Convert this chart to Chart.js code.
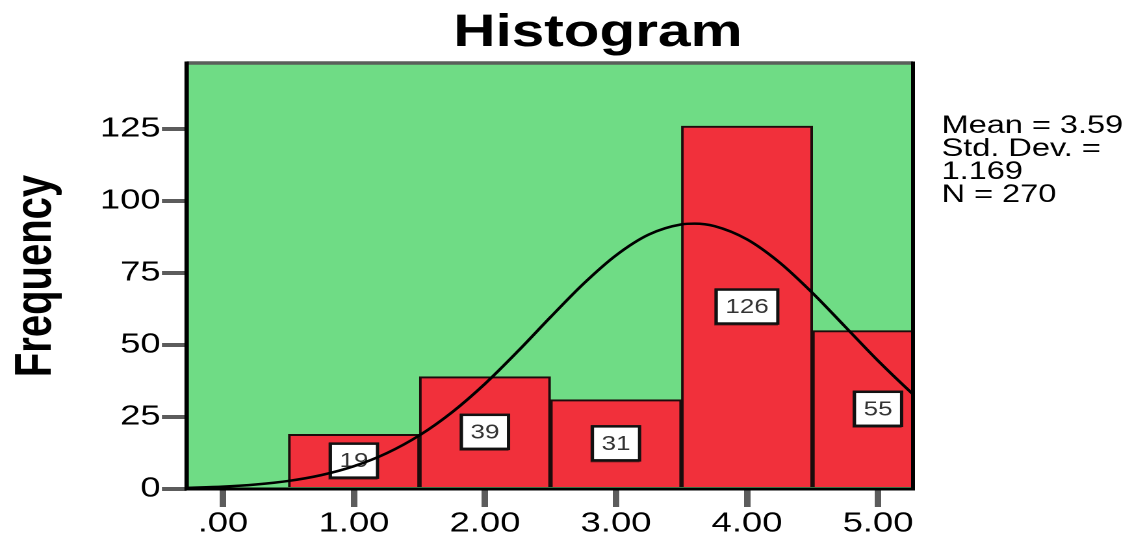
<!DOCTYPE html>
<html>
<head>
<meta charset="utf-8">
<script src="https://cdn.jsdelivr.net/npm/chart.js@4.4.1/dist/chart.umd.min.js"></script>
<style>
html, body { margin: 0; padding: 0; background: #fff; overflow: hidden; }
#wrap { position: absolute; left: 0; top: 0; width: 871px; height: 541px;
        transform: scaleX(1.29966); transform-origin: 0 0; }
</style>
</head>
<body>
<div id="wrap"><canvas id="hist"></canvas></div>
<script>
// histogram bins
const binCenters = [1, 2, 3, 4, 5];
const binCounts = [19, 39, 31, 126, 55];

// normal curve
const curveX = [-0.28, 0, 0.25, 0.5, 0.75, 1, 1.25, 1.5, 1.75, 2, 2.25, 2.5, 2.75, 3, 3.25, 3.5, 3.6, 3.75, 4, 4.25, 4.5, 4.75, 5, 5.25, 5.28];
const curveY = [0.38, 0.82, 1.56, 2.8, 4.82, 7.92, 12.43, 18.64, 26.7, 36.53, 47.77, 59.66, 71.18, 81.12, 88.33, 91.87, 92.13, 91.28, 86.65, 78.57, 68.05, 56.31, 44.52, 33.62, 32.4];

const xTickLabels = ['.00', '1.00', '2.00', '3.00', '4.00', '5.00'];
const statsLines = ['Mean = 3.59', 'Std. Dev. =', '1.169', 'N = 270'];
const chartTitle = 'Histogram';
const yTitle = 'Frequency';

const FONT = "'Liberation Sans', Arial, sans-serif";

// green plot background, borders, title and stats text
const decorPlugin = {
    id: 'decor',
    beforeDatasetsDraw(chart) {
        const { ctx, chartArea: a } = chart;
        ctx.save();
        ctx.fillStyle = '#6fdc85';
        ctx.fillRect(a.left, a.top, a.right - a.left, a.bottom - a.top);
        ctx.restore();
    },
    afterDraw(chart) {
        const { ctx, chartArea: a } = chart;
        ctx.save();
        // top border
        ctx.strokeStyle = '#5a5f5a';
        ctx.lineWidth = 3.5;
        ctx.beginPath();
        ctx.moveTo(a.left, a.top);
        ctx.lineTo(a.right, a.top);
        ctx.stroke();
        // right, left and bottom borders
        ctx.strokeStyle = '#000';
        ctx.lineWidth = 3;
        ctx.beginPath();
        ctx.moveTo(a.right, a.top - 1.5);
        ctx.lineTo(a.right, a.bottom);
        ctx.stroke();
        ctx.lineWidth = 3.4;
        ctx.beginPath();
        ctx.moveTo(a.left, a.top - 1.5);
        ctx.lineTo(a.left, a.bottom + 1.5);
        ctx.stroke();
        ctx.lineWidth = 3;
        ctx.beginPath();
        ctx.moveTo(a.left, a.bottom);
        ctx.lineTo(a.right + 1.5, a.bottom);
        ctx.stroke();

        // title
        ctx.fillStyle = '#000';
        ctx.font = 'bold 45px ' + FONT;
        ctx.textAlign = 'center';
        ctx.textBaseline = 'alphabetic';
        ctx.fillText(chartTitle, 460, 46);

        // stats block
        ctx.font = '25px ' + FONT;
        ctx.textAlign = 'left';
        statsLines.forEach((line, i) => {
            ctx.fillText(line, 724.5, 133 + i * 23);
        });
        ctx.restore();
    },
    // value boxes drawn after the bars, before the curve
    afterDatasetDraw(chart, args) {
        if (args.index !== 0) return;
        const ctx = chart.ctx;
        const meta = chart.getDatasetMeta(0);
        ctx.save();
        ctx.font = '20px ' + FONT;
        ctx.textAlign = 'center';
        ctx.textBaseline = 'middle';
        meta.data.forEach((bar, i) => {
            const txt = String(binCounts[i]);
            const cy = (bar.y + bar.base) / 2;
            const w = ctx.measureText(txt).width + 14;
            const h = 34;
            ctx.fillStyle = '#7a1c20';
            ctx.fillRect(bar.x - w / 2 - 1.5, cy - h / 2 - 1, w + 1.5, h + 3);
            ctx.fillStyle = '#fff';
            ctx.fillRect(bar.x - w / 2, cy - h / 2, w, h);
            ctx.strokeStyle = '#111';
            ctx.lineWidth = 2.5;
            ctx.strokeRect(bar.x - w / 2, cy - h / 2, w, h);
            ctx.fillStyle = '#333';
            ctx.fillText(txt, bar.x, cy + 1);
        });
        ctx.restore();
    }
};

const ctx = document.getElementById('hist').getContext('2d');
const histChart = new Chart(ctx, {
    type: 'bar',
    data: {
        datasets: [{
            type: 'bar',
            order: 2,
            data: binCenters.map((x, i) => ({ x: x, y: binCounts[i] })),
            backgroundColor: '#f1303b',
            borderColor: '#1c0c0c',
            borderWidth: 2,
            barPercentage: 1,
            categoryPercentage: 1
        }, {
            type: 'line',
            order: 1,
            data: curveX.map((x, i) => ({ x: x, y: curveY[i] })),
            borderColor: '#000',
            borderWidth: 2.5,
            pointRadius: 0,
            fill: false,
            cubicInterpolationMode: 'monotone'
        }]
    },
    options: {
        responsive: true,
        maintainAspectRatio: false,
        animation: false,
        devicePixelRatio: 2,
        layout: { padding: { top: 63, right: 168.5, bottom: 0, left: 0 } },
        plugins: {
            legend: { display: false },
            tooltip: { enabled: false }
        },
        scales: {
            x: {
                type: 'linear',
                min: -0.277,
                max: 5.267,
                offset: false,
                border: { display: false },
                grid: {
                    offset: false,
                    drawOnChartArea: false,
                    drawTicks: true,
                    tickLength: 18,
                    color: '#5c5c5c',
                    lineWidth: 5
                },
                ticks: {
                    stepSize: 1,
                    includeBounds: false,
                    autoSkip: false,
                    maxRotation: 0,
                    padding: 0,
                    color: '#000',
                    font: { family: FONT, size: 28 },
                    callback: v => xTickLabels[Math.round(v)]
                },
                afterFit: s => { s.height = 52; }
            },
            y: {
                min: 0,
                max: 147.9,
                border: { display: false },
                grid: {
                    drawOnChartArea: false,
                    drawTicks: true,
                    tickLength: 19,
                    color: '#5c5c5c',
                    lineWidth: 4
                },
                ticks: {
                    stepSize: 25,
                    includeBounds: false,
                    padding: 1,
                    color: '#000',
                    font: { family: FONT, size: 28 }
                },
                title: {
                    display: true,
                    text: yTitle,
                    color: '#000',
                    font: { family: FONT, size: 40, weight: 'bold' }
                },
                afterFit: s => { s.width = 143.6; }
            }
        }
    },
    plugins: [decorPlugin]
});
</script>
</body>
</html>
